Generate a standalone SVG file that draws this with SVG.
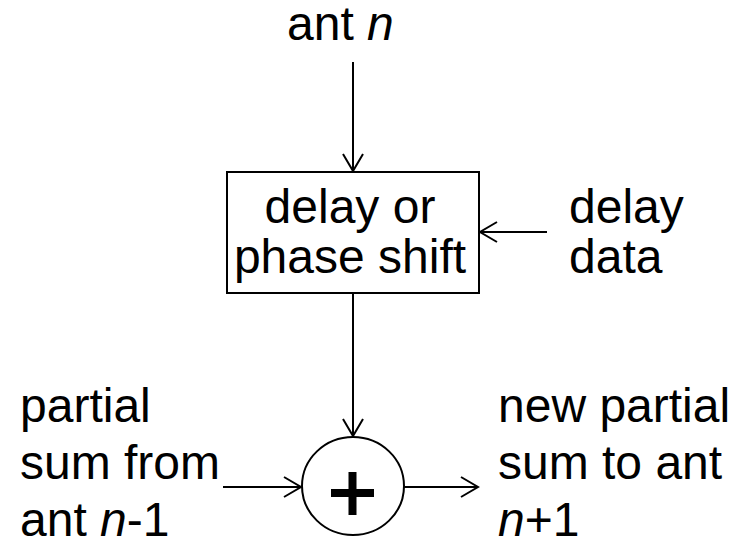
<svg xmlns="http://www.w3.org/2000/svg" width="740" height="541" viewBox="0 0 740 541">
<defs>
<style>
.t{font-family:"Liberation Sans",Arial,sans-serif;font-size:48px;fill:#000}
.i{font-style:italic}
.c{stroke:#000;stroke-width:2;fill:none}
</style>
<marker id="ah" markerUnits="userSpaceOnUse" markerWidth="30" markerHeight="30" refX="0" refY="0" viewBox="-20 -15 30 30" orient="auto" overflow="visible">
<path d="M-17,-10 L0,0 L-17,10" fill="none" stroke="#000" stroke-width="2"/>
</marker>
</defs>
<rect width="740" height="541" fill="#fff"/>
<g id="connectors">
<line class="c" x1="353" y1="62" x2="353" y2="171" marker-end="url(#ah)"/>
<line class="c" x1="547" y1="232" x2="480" y2="232" marker-end="url(#ah)"/>
<line class="c" x1="353" y1="293" x2="353" y2="436" marker-end="url(#ah)"/>
<line class="c" x1="223" y1="487" x2="301" y2="487" marker-end="url(#ah)"/>
<line class="c" x1="404" y1="487" x2="478" y2="487" marker-end="url(#ah)"/>
</g>
<g id="ant-n">
<text class="t" x="287" y="40">ant <tspan class="i">n</tspan></text>
</g>
<g id="delay-box">
<rect x="227" y="172" width="252" height="121" fill="#fff" stroke="#000" stroke-width="2"/>
<text class="t" x="350" y="223" text-anchor="middle">delay or</text>
<text class="t" x="350" y="273" text-anchor="middle">phase shift</text>
</g>
<g id="delay-data">
<text class="t" x="569" y="223">delay</text>
<text class="t" x="569" y="273">data</text>
</g>
<g id="sum">
<ellipse cx="353" cy="486" rx="51" ry="49" fill="#fff" stroke="#000" stroke-width="2"/>
<rect x="331" y="489" width="43" height="8" fill="#000"/>
<rect x="348.5" y="472" width="8" height="43" fill="#000"/>
</g>
<g id="partial-in">
<text class="t" x="20" y="422">partial</text>
<text class="t" x="20" y="479">sum from</text>
<text class="t" x="20" y="536">ant <tspan class="i">n</tspan>-1</text>
</g>
<g id="partial-out">
<text class="t" x="498" y="422">new partial</text>
<text class="t" x="498" y="479">sum to ant</text>
<text class="t" x="498" y="536"><tspan class="i">n</tspan>+1</text>
</g>
</svg>
